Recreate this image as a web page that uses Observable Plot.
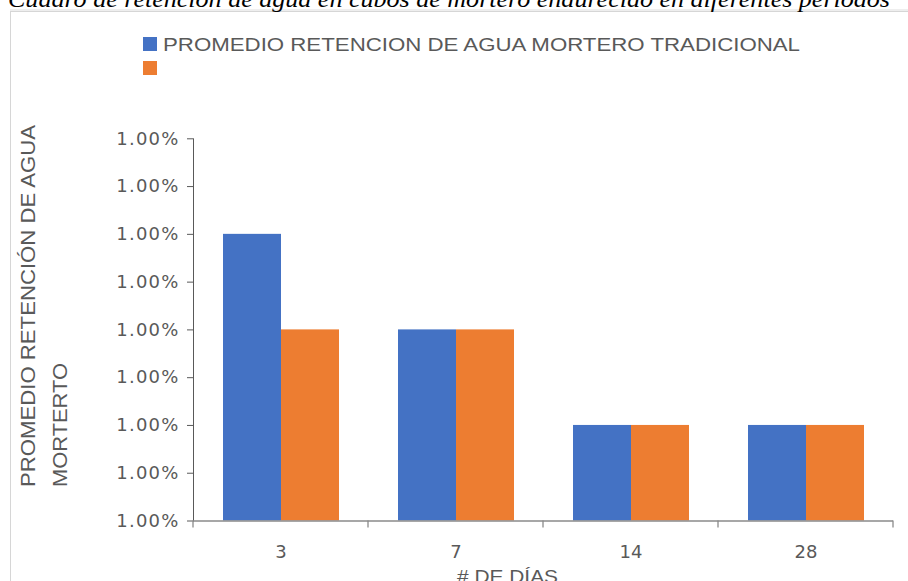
<!DOCTYPE html>
<html>
<head>
<meta charset="utf-8">
<script src="https://cdn.jsdelivr.net/npm/d3@7"></script>
<script src="https://cdn.jsdelivr.net/npm/@observablehq/plot@0.6"></script>
<style>
  html, body { margin: 0; padding: 0; background: #fff; }
  #wrap { position: relative; width: 908px; height: 581px; overflow: hidden; background: #fff; }
  #wrap > svg { position: absolute; left: 0; top: 0; }
</style>
</head>
<body>
<div id="wrap"></div>
<script>
// ---- data ----
const titleText = "Cuadro de retención de agua en cubos de mortero endurecido en diferentes periodos";
const days = ["3", "7", "14", "28"];
const seriesNames = ["PROMEDIO RETENCION DE AGUA MORTERO TRADICIONAL", ""];
const seriesColors = ["#4472C4", "#ED7D31"];
const tradicional = [1.0006, 1.0004, 1.0002, 1.0002];
const segunda = [1.0004, 1.0004, 1.0002, 1.0002];
const baseline = 1.0;
const yTicks = [1.0, 1.0001, 1.0002, 1.0003, 1.0004, 1.0005, 1.0006, 1.0007, 1.0008];
const yLabelLines = ["PROMEDIO RETENCIÓN DE AGUA", "MORTERTO"];
const xLabel = "# DE DÍAS";

const rows = [];
[tradicional, segunda].forEach((vals, k) => {
  vals.forEach((v, i) => rows.push({day: days[i], k, value: v}));
});

const axisColor = "#8a8a8a";
const textColor = "#595959";

const plot = Plot.plot({
  width: 908,
  height: 581,
  marginTop: 138.3,
  marginBottom: 60.5,
  marginLeft: 193,
  marginRight: 15,
  style: {fontFamily: "DejaVu Sans", fontSize: "18px", color: textColor, background: "transparent"},
  fx: {domain: days, paddingInner: 0, paddingOuter: 0, axis: "bottom", label: null, tickSize: 0, tickPadding: 24},
  x: {domain: [0, 1], axis: null, paddingInner: 0, paddingOuter: 0.5},
  y: {domain: [yTicks[0], yTicks[yTicks.length - 1]], ticks: yTicks, tickFormat: d => d.toFixed(2) + "%", tickSize: 6, tickPadding: 8, label: null, line: true},
  color: {type: "ordinal", domain: [0, 1], range: seriesColors},
  marks: [
    Plot.barY(rows, {fx: "day", x: "k", y1: () => baseline, y2: "value", fill: "k"}),
    Plot.ruleY([baseline], {stroke: axisColor, strokeWidth: 1.3})
  ]
});

const wrap = document.getElementById("wrap");
wrap.appendChild(plot);

const svg = d3.select(plot);
svg.selectAll("[aria-label='y-axis tick'], [aria-label='y-axis line'], [aria-label='frame']").attr("stroke", axisColor);
svg.selectAll("[aria-label='y-axis tick label'] text").attr("letter-spacing", "1.2px");

// category boundary tick marks on x axis, from the fx scale
const fxd = plot.scale("fx");
const ysd = plot.scale("y");
const fxs = d3.scaleBand().domain(fxd.domain).range(fxd.range).paddingInner(fxd.paddingInner || 0).paddingOuter(fxd.paddingOuter || 0).align(fxd.align ?? 0.5);
const ys = d3.scaleLinear().domain(ysd.domain).range(ysd.range);
const bounds = fxs.domain().map(d => fxs(d)).concat([fxs(days[days.length - 1]) + fxs.step()]);
const y0 = ys(baseline);
svg.append("g").selectAll("line").data(bounds).join("line")
  .attr("x1", d => d).attr("x2", d => d)
  .attr("y1", y0).attr("y2", y0 + 7)
  .attr("stroke", axisColor).attr("stroke-width", 1.3);

// overlay: frame, title, legend, axis titles
const ov = d3.select(wrap).append("svg")
  .attr("width", 908).attr("height", 581)
  .style("pointer-events", "none");

ov.append("rect").attr("x", 10.5).attr("y", 11.5).attr("width", 910).attr("height", 600)
  .attr("fill", "none").attr("stroke", "#d6d6d6");
ov.append("line").attr("x1", 10).attr("x2", 908).attr("y1", 10).attr("y2", 10)
  .attr("stroke", "#eeeeee").attr("stroke-width", 2);

ov.append("text").text(titleText)
  .attr("x", 8).attr("y", 7)
  .attr("font-family", "Liberation Serif").attr("font-style", "italic").attr("font-size", 24)
  .attr("textLength", 882).attr("lengthAdjust", "spacingAndGlyphs")
  .attr("fill", "#000");

// legend
const leg = ov.append("g");
seriesNames.forEach((name, i) => {
  leg.append("rect").attr("x", 143).attr("y", 37 + i * 24).attr("width", 14).attr("height", 14).attr("fill", seriesColors[i]);
  if (name) {
    leg.append("text").text(name).attr("x", 163).attr("y", 51 + i * 24)
      .attr("font-family", "Liberation Sans").attr("font-size", 18).attr("fill", textColor)
      .attr("textLength", 637).attr("lengthAdjust", "spacingAndGlyphs");
  }
});

// y axis title (two lines, rotated)
const yLens = [362, 124];
const yBase = [35, 67];
yLabelLines.forEach((line, i) => {
  ov.append("text").text(line)
    .attr("transform", `translate(${yBase[i]},487) rotate(-90)`)
    .attr("font-family", "Liberation Sans").attr("font-size", 20).attr("fill", textColor)
    .attr("textLength", yLens[i]).attr("lengthAdjust", "spacingAndGlyphs");
});

// x axis title
ov.append("text").text(xLabel)
  .attr("x", 457).attr("y", 583)
  .attr("font-family", "Liberation Sans").attr("font-size", 19).attr("fill", textColor)
  .attr("textLength", 101).attr("lengthAdjust", "spacingAndGlyphs");
</script>
</body>
</html>
